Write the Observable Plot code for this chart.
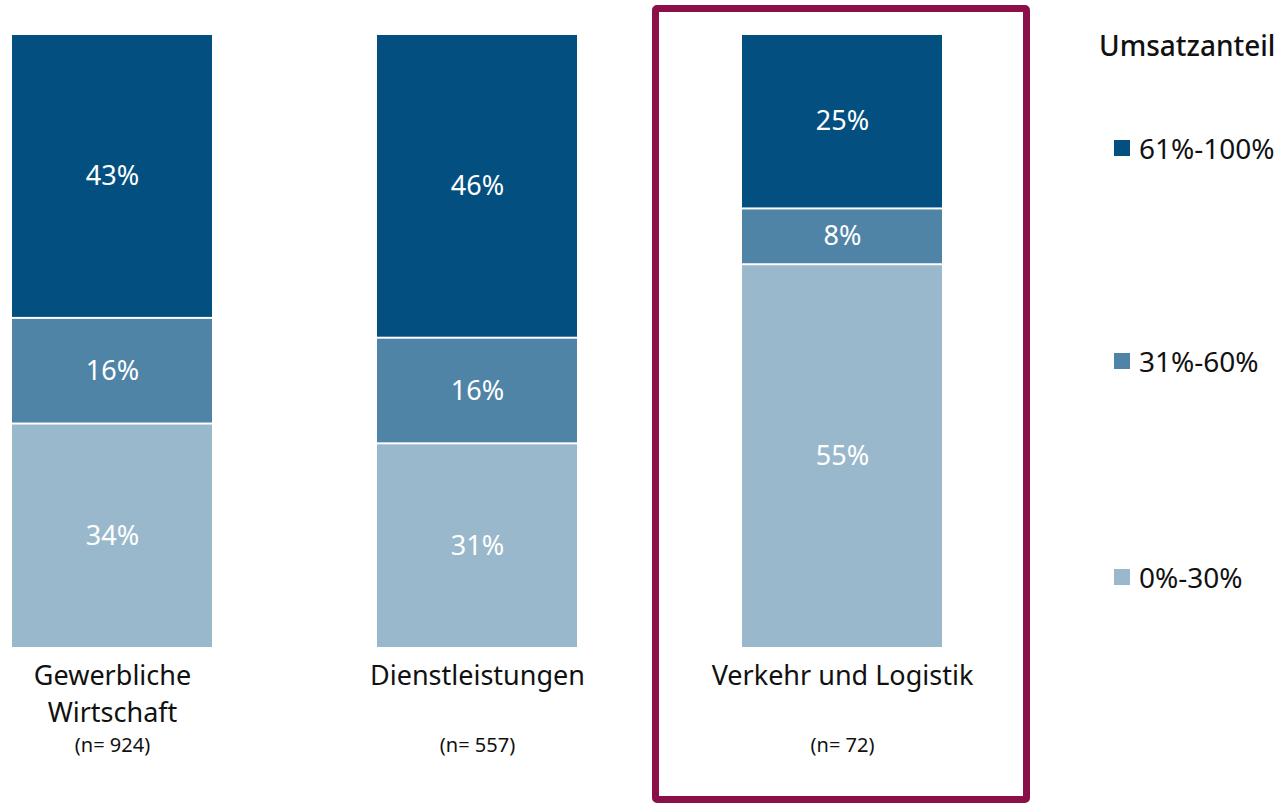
<!DOCTYPE html>
<html>
<head>
<meta charset="utf-8">
<script src="https://cdn.jsdelivr.net/npm/d3@7"></script>
<script src="https://cdn.jsdelivr.net/npm/@observablehq/plot@0.6"></script>
<style>
  html, body { margin: 0; padding: 0; background: #fff; }
  body { width: 1285px; height: 803px; position: relative; overflow: hidden; font-family: "Noto Sans", sans-serif; }
  #chart { position: absolute; left: 0; top: 0; }
  #box { position: absolute; left: 652px; top: 5px; width: 364px; height: 784px; border: 7px solid #8b0f48; border-radius: 5px; pointer-events: none; }
  #legend { position: absolute; left: 0; top: 0; width: 1285px; height: 803px; pointer-events: none; color: #111; }
  .ltitle { position: absolute; left: 1099px; font-size: 28px; font-weight: 500; line-height: 1; transform: translateY(-50%); white-space: nowrap; }
  .litem { position: absolute; left: 1114px; font-size: 28px; line-height: 1; transform: translateY(-50%); white-space: nowrap; display: flex; align-items: center; }
  .sw { width: 16px; height: 16px; margin-right: 9px; display: inline-block; }
</style>
</head>
<body>
<div id="chart"></div>
<div id="box"></div>
<div id="legend"></div>
<script>
// Data
const categories = ["Gewerbliche Wirtschaft", "Dienstleistungen", "Verkehr und Logistik"];
const categoryLabels = ["Gewerbliche\nWirtschaft", "Dienstleistungen", "Verkehr und Logistik"];
const sampleSizes = ["(n= 924)", "(n= 557)", "(n= 72)"];
const shareBands = ["0%-30%", "31%-60%", "61%-100%"]; // stacked bottom to top
const values0to30 = [34, 31, 55];
const values31to60 = [16, 16, 8];
const values61to100 = [43, 46, 25];
const legendTitle = "Umsatzanteil";
const bandColors = ["#9ab8cc", "#4f84a7", "#034f7f"];

const seriesValues = [values0to30, values31to60, values61to100];
const rows = [];
shareBands.forEach((band, i) => {
  categories.forEach((cat, j) => {
    rows.push({category: cat, band, value: seriesValues[i][j]});
  });
});
const catRows = categories.map((c, j) => ({category: c, label: categoryLabels[j], n: sampleSizes[j]}));

const W = 1285, H = 803;
const chart = Plot.plot({
  width: W,
  height: H,
  marginLeft: 12,
  marginRight: 342,
  marginTop: 34,
  marginBottom: 155,
  style: {fontFamily: "'Noto Sans', sans-serif", background: "transparent"},
  x: {domain: categories, paddingInner: 0.452, paddingOuter: 0, axis: null},
  y: {domain: [0, 1], axis: null},
  color: {domain: shareBands, range: bandColors},
  marks: [
    Plot.barY(rows, Plot.stackY({
      x: "category", y: "value", fill: "band", offset: "normalize",
      insetTop: 1, insetBottom: 1
    })),
    Plot.text(rows, Plot.stackY({
      x: "category", y: "value", offset: "normalize",
      text: d => d.value + "%", fill: "white", fontSize: 27
    })),
    Plot.text(catRows, {
      x: "category", text: "label", frameAnchor: "bottom", lineAnchor: "top",
      dy: 10, fontSize: 27, fill: "#111", lineHeight: 1.37
    }),
    Plot.text(catRows, {
      x: "category", text: "n", frameAnchor: "bottom",
      dy: 103, fontSize: 20, fill: "#111"
    })
  ]
});
document.getElementById("chart").appendChild(chart);

// Legend
const color = chart.scale("color");
const legend = document.getElementById("legend");
const t = document.createElement("div");
t.className = "ltitle";
t.style.top = "45px";
t.textContent = legendTitle;
legend.appendChild(t);
const legendOrder = ["61%-100%", "31%-60%", "0%-30%"];
const legendY = [148, 361, 577];
legendOrder.forEach((b, i) => {
  const d = document.createElement("div");
  d.className = "litem";
  d.style.top = legendY[i] + "px";
  const sw = document.createElement("span");
  sw.className = "sw";
  sw.style.background = color.apply(b);
  d.appendChild(sw);
  d.appendChild(document.createTextNode(b));
  legend.appendChild(d);
});
</script>
</body>
</html>
